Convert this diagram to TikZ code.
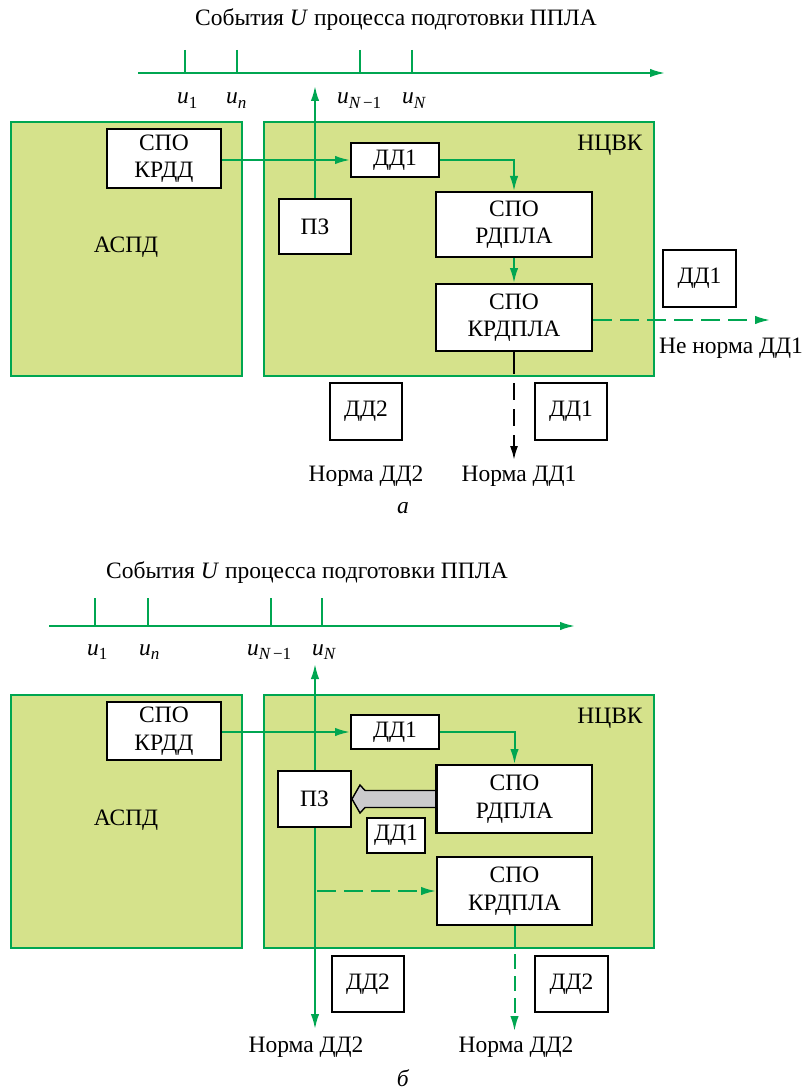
\documentclass[tikz,border=0pt]{standalone}
\usepackage{fontspec}
\setmainfont{Liberation Serif}
\usetikzlibrary{arrows.meta,calc}
\definecolor{lgreen}{HTML}{D5E28B}
\definecolor{dgreen}{HTML}{00A651}
\definecolor{fatgrey}{HTML}{CBCBCD}
\newcommand{\uu}[1]{{\itshape u}\raisebox{-0.4ex}{\fontsize{17}{17}\selectfont #1}}
\begin{document}
\begin{tikzpicture}[x=1pt,y=-1pt,
  font=\fontsize{23.5}{27.5}\selectfont,
  panel/.style={draw=dgreen,fill=lgreen,line width=2pt,inner sep=0pt},
  bx/.style={draw=black,fill=white,line width=2pt,align=center,inner sep=0pt},
  obx/.style={draw=black,line width=1.6pt,align=center,inner sep=0pt},
  gline/.style={draw=dgreen,line width=2pt},
  garr/.style={gline,-{Latex[length=15pt,width=8.5pt]}},
  gdash/.style={garr,dash pattern=on 19pt off 8pt},
  gdashv/.style={garr,dash pattern=on 15pt off 7pt,dash phase=15pt},
  kdash/.style={draw=black,line width=2pt,dash pattern=on 17pt off 9pt,dash phase=17pt,-{Latex[length=14pt,width=8pt]}},
  lbl/.style={inner sep=0pt}]
\useasboundingbox (0,0) rectangle (805,1091);
% ================= panel a =================
\node[lbl] (titleA) at (396,20) {События \textit{U} процесса подготовки ППЛА};
\coordinate (axA0) at (138,73);
\coordinate (axA1) at (665,73);
\draw[garr] (axA0) -- (axA1);
\foreach \x in {185,237,360,412} \draw[gline] (\x,50) -- (\x,73);
\node[lbl,anchor=base west] (u1A) at (177,104) {\uu{1}};
\node[lbl,anchor=base west] (unA) at (226,104) {\uu{\itshape n}};
\node[lbl,anchor=base west] (uN1A) at (337,104) {\uu{{\itshape N}\,−1}};
\node[lbl,anchor=base west] (uNA) at (402,104) {\uu{\itshape N}};

\node[panel,minimum width=231pt,minimum height=254pt] (aspdA) at (126.5,249) {};
\node[panel,minimum width=390pt,minimum height=254pt] (ncvkA) at (459,249) {};
\node[lbl] (aspdLA) at (126,247) {АСПД};
\node[lbl] (ncvkLA) at (610,145) {НЦВК};

\node[bx,minimum width=114pt,minimum height=59pt] (krddA) at (164,158.5) {СПО\\КРДД};
\node[bx,minimum width=88pt,minimum height=34pt] (dd1A) at (395,160) {ДД1};
\node[bx,minimum width=72pt,minimum height=55pt] (pzA) at (315,226.5) {ПЗ};
\node[bx,minimum width=156pt,minimum height=65pt] (rdplaA) at (514,224.5) {СПО\\РДПЛА};
\node[bx,minimum width=156pt,minimum height=67pt] (krdplaA) at (514,317.5) {СПО\\КРДПЛА};
\node[obx,minimum width=73pt,minimum height=57pt] (dd1oA) at (699.5,278.5) {ДД1};
\node[obx,minimum width=72pt,minimum height=57pt] (dd2A) at (366,411.5) {ДД2};
\node[obx,minimum width=72pt,minimum height=57pt] (dd1bA) at (571,411.5) {ДД1};
\node[lbl] (nn1A) at (731,348) {Не норма ДД1};
\node[lbl] (n2A) at (366,476) {Норма ДД2};
\node[lbl] (n1A) at (519,476) {Норма ДД1};
\node[lbl] (capA) at (403,508) {\textit{а}};

\coordinate (pzupA) at (315,86);
\draw[garr] (pzA.north) -- (pzupA);
\draw[garr] (krddA.east |- dd1A.west) -- (dd1A.west);
\draw[garr] (dd1A.east) -| (rdplaA.north);
\draw[garr] (rdplaA.south) -- (krdplaA.north);
\coordinate (nnA) at (770,320);
\draw[gdash] (krdplaA.east |- nnA) -- (nnA);
\coordinate (edgeA) at (514,374);
\coordinate (n1tipA) at (514,460);
\draw[black,line width=2pt] (krdplaA.south) -- (edgeA);
\draw[kdash] (edgeA) -- (n1tipA);

% ================= panel b =================
\node[lbl] (titleB) at (307,573) {События \textit{U} процесса подготовки ППЛА};
\coordinate (axB0) at (49,626);
\coordinate (axB1) at (575,626);
\draw[garr] (axB0) -- (axB1);
\foreach \x in {95,148,271,322} \draw[gline] (\x,598) -- (\x,626);
\node[lbl,anchor=base west] (u1B) at (87,655) {\uu{1}};
\node[lbl,anchor=base west] (unB) at (139,655) {\uu{\itshape n}};
\node[lbl,anchor=base west] (uN1B) at (247,655) {\uu{{\itshape N}\,−1}};
\node[lbl,anchor=base west] (uNB) at (312,655) {\uu{\itshape N}};

\node[panel,minimum width=231pt,minimum height=253pt] (aspdB) at (126.5,821.5) {};
\node[panel,minimum width=390pt,minimum height=253pt] (ncvkB) at (459,821.5) {};
\node[lbl] (aspdLB) at (126,820) {АСПД};
\node[lbl] (ncvkLB) at (610,718) {НЦВК};

% vertical line through PZ
\coordinate (pzupB) at (315,664);
\coordinate (pzdnB) at (315,1029);
\draw[garr] (315,800) -- (pzupB);
\draw[garr] (315,800) -- (pzdnB);

\node[bx,minimum width=114pt,minimum height=58pt] (krddB) at (164,731) {СПО\\КРДД};
\node[bx,minimum width=88pt,minimum height=34pt] (dd1B) at (395,732) {ДД1};
\node[bx,minimum width=73pt,minimum height=56pt] (pzB) at (314.5,799) {ПЗ};
\node[bx,minimum width=155pt,minimum height=68pt] (rdplaB) at (514.5,799) {СПО\\РДПЛА};
\node[obx,fill=white,line width=2pt,minimum width=58pt,minimum height=35pt] (dd1sB) at (396,835.5) {ДД1};
\node[bx,minimum width=155pt,minimum height=68pt] (krdplaB) at (514.5,891) {СПО\\КРДПЛА};
\node[obx,minimum width=72pt,minimum height=56pt] (dd2aB) at (368,984) {ДД2};
\node[obx,minimum width=73pt,minimum height=56pt] (dd2bB) at (571.5,984) {ДД2};
\node[lbl] (n2aB) at (306,1047) {Норма ДД2};
\node[lbl] (n2bB) at (516,1047) {Норма ДД2};
\node[lbl] (capB) at (403,1078) {\textit{б}};

\draw[garr] (krddB.east |- dd1B.west) -- (dd1B.west);
\draw[garr] (dd1B.east) -| (rdplaB.north);
\coordinate (dstartB) at (317,891);
\draw[gdash] (dstartB) -- (krdplaB.west);
\coordinate (edgeB) at (514.5,947);
\coordinate (n2tipB) at (514.5,1031);
\draw[gline] (krdplaB.south) -- (edgeB);
\draw[gdashv] (edgeB) -- (n2tipB);
% fat grey arrow from RDPLA to PZ
\draw[fill=fatgrey,line width=1.4pt,line join=miter]
  (437,790.5) -- (365,790.5) -- (360,785) -- (pzB.east) -- (360,813) -- (365,807.5) -- (437,807.5) -- cycle;
\draw[line width=2pt] (rdplaB.north west) -- (rdplaB.south west);
\end{tikzpicture}
\end{document}
